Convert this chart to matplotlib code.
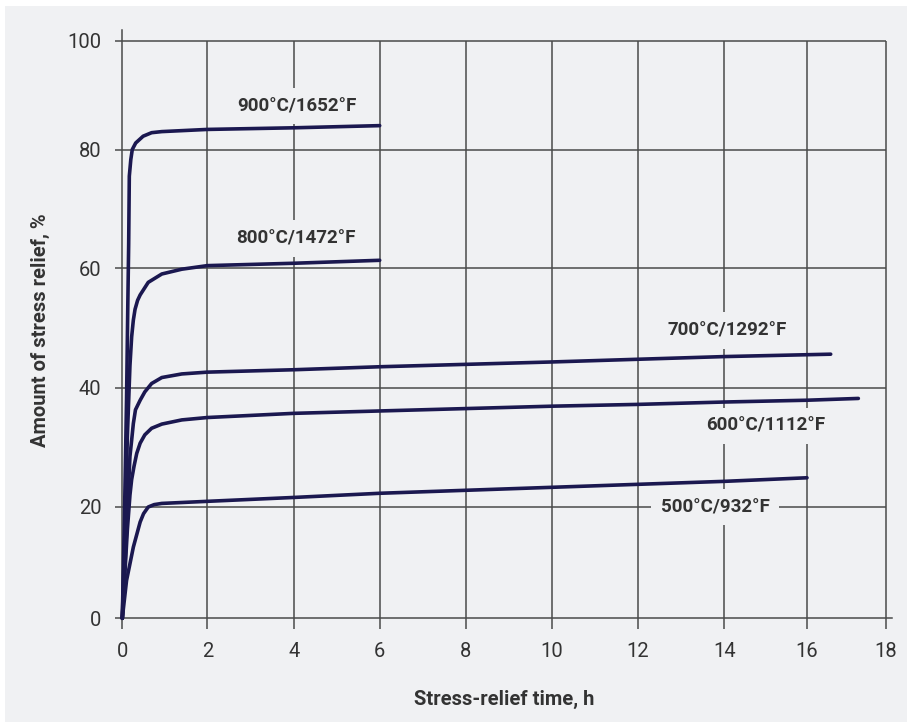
import numpy as np
import matplotlib
matplotlib.use("Agg")
import matplotlib.pyplot as plt
from matplotlib.patches import Rectangle

# ---- data ----
x_ticks = [0, 2, 4, 6, 8, 10, 12, 14, 16, 18]
y_ticks = [0, 20, 40, 60, 80, 100]

t_900 = [0, 0.05, 0.10, 0.13, 0.15, 0.165, 0.20, 0.235, 0.315, 0.49, 0.69, 0.93, 2, 4, 6]
r_900 = [0, 18, 38, 54, 64, 75.5, 78.3, 80.0, 81.2, 82.45, 83.1, 83.3, 83.7, 84.0, 84.4]

t_800 = [0, 0.06, 0.12, 0.18, 0.22, 0.26, 0.30, 0.36, 0.42, 0.61, 0.93, 1.4, 2, 4, 6]
r_800 = [0, 15, 32, 43.7, 48.5, 51.3, 53.1, 54.6, 55.5, 57.6, 59.0, 59.8, 60.4, 60.8, 61.3]

t_700 = [0, 0.06, 0.12, 0.18, 0.22, 0.26, 0.31, 0.42, 0.53, 0.69, 0.93, 1.4, 2, 4, 6, 8, 10, 12, 14, 16.6]
r_700 = [0, 9, 19, 28.5, 31.2, 34.0, 36.3, 37.9, 39.3, 40.7, 41.7, 42.3, 42.6, 43.0, 43.5, 43.9, 44.3, 44.75, 45.2, 45.6]

t_600 = [0, 0.06, 0.12, 0.18, 0.22, 0.275, 0.34, 0.42, 0.53, 0.69, 0.93, 1.4, 2, 4, 6, 8, 10, 12, 14, 16, 17.3]
r_600 = [0, 8, 16, 22, 24.6, 26.8, 29.0, 30.7, 32.1, 33.2, 33.9, 34.6, 35.0, 35.7, 36.1, 36.5, 36.9, 37.2, 37.6, 37.9, 38.2]

t_500 = [0, 0.1, 0.26, 0.42, 0.5, 0.61, 0.75, 0.93, 2, 4, 6, 8, 10, 12, 14, 16]
r_500 = [0, 6.8, 12.8, 17.3, 18.8, 20.0, 20.4, 20.6, 20.95, 21.6, 22.3, 22.8, 23.3, 23.8, 24.3, 24.9]

series_labels = ["900°C/1652°F", "800°C/1472°F", "700°C/1292°F", "600°C/1112°F", "500°C/932°F"]
label_x = [4.07, 4.05, 14.08, 15.0, 13.79]
label_y = [88.0, 65.0, 49.5, 33.6, 20.0]

# ---- the hand-drawn axes are not quite uniform: piecewise-linear scales ----
W, H = 907, 726
x_px = np.array([122.3, 207.3, 293.7, 379.7, 465.7, 551.7, 637.7, 724.3, 807.0, 886.0])
y_px = H - np.array([618.3, 507.0, 387.7, 268.0, 149.5, 41.0])


def piecewise(vals, pix):
    vals = np.asarray(vals, float)
    pix = np.asarray(pix, float)
    s0 = (pix[1] - pix[0]) / (vals[1] - vals[0])
    s1 = (pix[-1] - pix[-2]) / (vals[-1] - vals[-2])

    def fwd(v):
        v = np.asarray(v, float)
        out = np.interp(v, vals, pix)
        out = np.where(v < vals[0], pix[0] + (v - vals[0]) * s0, out)
        out = np.where(v > vals[-1], pix[-1] + (v - vals[-1]) * s1, out)
        return out

    def inv(p):
        p = np.asarray(p, float)
        out = np.interp(p, pix, vals)
        out = np.where(p < pix[0], vals[0] + (p - pix[0]) / s0, out)
        out = np.where(p > pix[-1], vals[-1] + (p - pix[-1]) / s1, out)
        return out

    return fwd, inv


fx, ix = piecewise(x_ticks, x_px)
fy, iy = piecewise(y_ticks, y_px)

xlim = (0, 18.15)
ylim = (0, 102)

fig = plt.figure(figsize=(W / 100, H / 100), dpi=100, facecolor="white")
bg = "#f0f1f3"
fig.patches.append(Rectangle((5 / W, 4 / H), (W - 5) / W, (H - 10) / H,
                             transform=fig.transFigure, facecolor=bg,
                             edgecolor="none", zorder=-10))

left = float(fx(xlim[0])) / W
right = float(fx(xlim[1])) / W
bottom = float(fy(ylim[0])) / H
top = float(fy(ylim[1])) / H
ax = fig.add_axes([left, bottom, right - left, top - bottom], zorder=1)
ax.set_facecolor("none")
ax.set_xscale("function", functions=(fx, ix))
ax.set_yscale("function", functions=(fy, iy))
ax.set_xlim(*xlim)
ax.set_ylim(*ylim)

grid_c = "#4a4a4a"
ax.hlines(y_ticks[1:], x_ticks[0], x_ticks[-1], color=grid_c, lw=1.1, zorder=1)
ax.vlines(x_ticks[1:], y_ticks[0], y_ticks[-1], color=grid_c, lw=1.1, zorder=1)

for s in ["top", "right"]:
    ax.spines[s].set_visible(False)
for s in ["left", "bottom"]:
    ax.spines[s].set_color(grid_c)
    ax.spines[s].set_linewidth(1.1)

font = ["Roboto", "DejaVu Sans"]

ax.set_xticks(x_ticks)
ax.set_yticks(y_ticks)
ax.set_xticklabels([str(v) for v in x_ticks])
ax.set_yticklabels([str(v) for v in y_ticks])
ax.minorticks_off()
ax.tick_params(axis="x", direction="out", length=8, width=1.1, color=grid_c,
               pad=9, labelsize=14.5, labelcolor="#333333")
ax.tick_params(axis="y", direction="out", length=5, width=1.1, color=grid_c,
               pad=10, labelsize=14.5, labelcolor="#333333")
for lab in ax.get_xticklabels() + ax.get_yticklabels():
    lab.set_family(font)

line_c = "#1b1850"
for t, r in [(t_900, r_900), (t_800, r_800), (t_700, r_700), (t_600, r_600), (t_500, r_500)]:
    ax.plot(t, r, color=line_c, lw=2.6, solid_capstyle="round",
            solid_joinstyle="round", zorder=3, clip_on=False)

for txt, lx, ly in zip(series_labels, label_x, label_y):
    ax.text(lx, ly, txt, ha="center", va="center", fontsize=13.5, fontweight="bold",
            family=font, color="#333333", zorder=2.5,
            bbox=dict(boxstyle="square,pad=0.5", facecolor=bg, edgecolor="none"))

fig.text(504 / W, 1 - 699 / H, "Stress-relief time, h", ha="center", va="center",
         fontsize=14.5, fontweight="bold", family=font, color="#333333")
fig.text(40 / W, 1 - 330 / H, "Amount of stress relief, %", ha="center", va="center",
         rotation=90, fontsize=14.5, fontweight="bold", family=font, color="#333333")

fig.savefig("out.png", dpi=100, facecolor="white")
